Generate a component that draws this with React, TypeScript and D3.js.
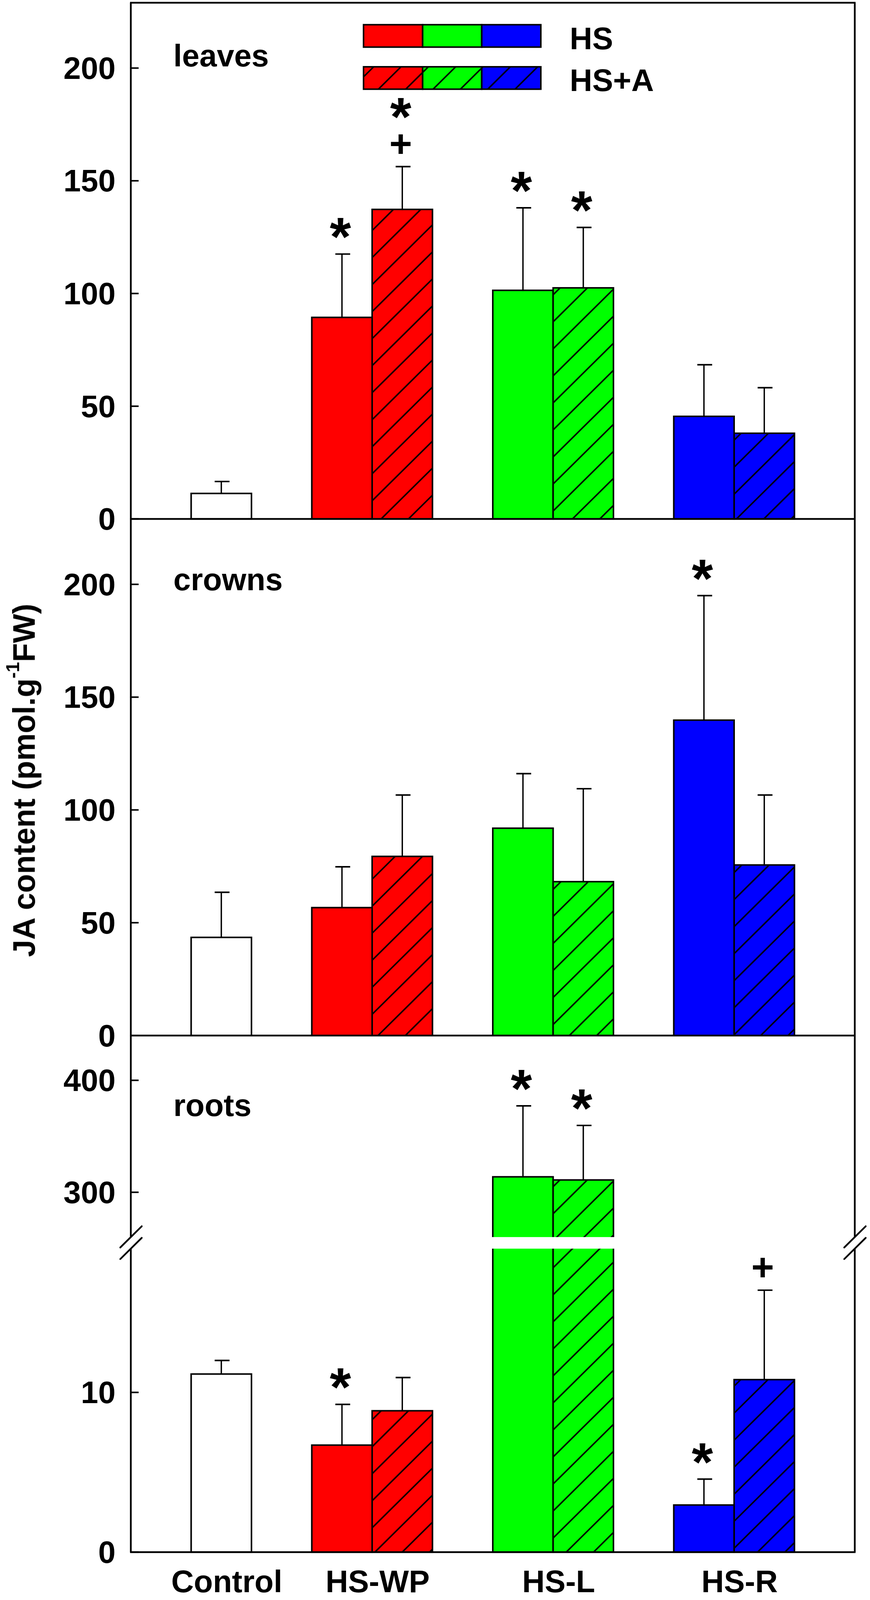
import { useEffect, useRef } from "react";
import * as d3 from "d3";

const treatments = ["HS-WP", "HS-L", "HS-R"];
const categories = ["Control", ...treatments];
const treatmentColors = ["#ff0000", "#00ff00", "#0000ff"];
const legendLabels = ["HS", "HS+A"];

// leaves
const leavesControl = 11.3;
const leavesControlErr = 5.3;
const leavesHS = [89.4, 101.4, 45.5];
const leavesHSErr = [28.1, 36.6, 22.9];
const leavesHSA = [137.3, 102.5, 38.0];
const leavesHSAErr = [19.0, 26.8, 20.2];
const leavesHSMarks = ["*", "*", ""];
const leavesHSAMarks = ["*+", "*", ""];
const leavesTicks = [0, 50, 100, 150, 200];

// crowns
const crownsControl = 43.5;
const crownsControlErr = 20.0;
const crownsHS = [56.7, 91.9, 139.8];
const crownsHSErr = [18.1, 24.2, 55.2];
const crownsHSA = [79.4, 68.2, 75.6];
const crownsHSAErr = [27.2, 41.2, 31.0];
const crownsHSMarks = ["", "", "*"];
const crownsHSAMarks = ["", "", ""];
const crownsTicks = [0, 50, 100, 150, 200];

// roots (broken axis)
const rootsControl = 11.15;
const rootsControlErr = 0.85;
const rootsHS = [6.7, 313.8, 2.95];
const rootsHSErr = [2.55, 63.4, 1.62];
const rootsHSA = [8.85, 311.0, 10.8];
const rootsHSAErr = [2.08, 48.7, 5.6];
const rootsHSMarks = ["*", "*", "*"];
const rootsHSAMarks = ["", "*", "+"];
const rootsLowTicks = [0, 10];
const rootsHighTicks = [300, 400];

const W = 2228;
const H = 4144;
const LEFT = 335;
const RIGHT = 2189;
const TOP = 7;
const FONT = "'Liberation Sans', Arial, Helvetica, sans-serif";

type Seg = { scale: d3.ScaleLinear<number, number>; ticks: number[] };

export default function App() {
  const svgRef = useRef<SVGSVGElement>(null);

  useEffect(() => {
    if (!svgRef.current) return;
    document.documentElement.style.overflow = "hidden";
    document.body.style.margin = "0";
    const svg = d3.select(svgRef.current);
    svg.selectAll("*").remove();

    svg.append("rect").attr("width", W).attr("height", H).attr("fill", "#fff");

    // hatch patterns for HS+A
    const defs = svg.append("defs");
    treatmentColors.forEach((c, i) => {
      const p = defs
        .append("pattern")
        .attr("id", `hatch${i}`)
        .attr("patternUnits", "userSpaceOnUse")
        .attr("width", 70)
        .attr("height", 70)
        .attr("patternTransform", "translate(10,0)");
      p.append("rect").attr("width", 70).attr("height", 70).attr("fill", c);
      p.append("path")
        .attr("d", "M0,70L70,0M-10,10L10,-10M60,80L80,60")
        .attr("stroke", "#000")
        .attr("stroke-width", 3.8);
    });

    // groups sit at 0..3, each bar is a third of a unit wide
    const x = d3.scaleLinear().domain([-1 / 3, 11 / 3]).range([LEFT, RIGHT]);
    const bw = 1 / 3;

    const panels = [
      {
        name: "leaves",
        labelY: 172,
        control: leavesControl,
        controlErr: leavesControlErr,
        hs: leavesHS,
        hsErr: leavesHSErr,
        hsa: leavesHSA,
        hsaErr: leavesHSAErr,
        hsMarks: leavesHSMarks,
        hsaMarks: leavesHSAMarks,
        segs: [
          { scale: d3.scaleLinear().domain([0, 229]).range([1344, TOP]), ticks: leavesTicks },
        ] as Seg[],
      },
      {
        name: "crowns",
        labelY: 1529,
        control: crownsControl,
        controlErr: crownsControlErr,
        hs: crownsHS,
        hsErr: crownsHSErr,
        hsa: crownsHSA,
        hsaErr: crownsHSAErr,
        hsMarks: crownsHSMarks,
        hsaMarks: crownsHSAMarks,
        segs: [
          { scale: d3.scaleLinear().domain([0, 229]).range([2682, 1344]), ticks: crownsTicks },
        ] as Seg[],
      },
      {
        name: "roots",
        labelY: 2890,
        control: rootsControl,
        controlErr: rootsControlErr,
        hs: rootsHS,
        hsErr: rootsHSErr,
        hsa: rootsHSA,
        hsaErr: rootsHSAErr,
        hsMarks: rootsHSMarks,
        hsaMarks: rootsHSAMarks,
        segs: [
          { scale: d3.scaleLinear().domain([0, 19]).range([4020, 3234]), ticks: rootsLowTicks },
          { scale: d3.scaleLinear().domain([260, 440]).range([3204, 2682]), ticks: rootsHighTicks },
        ] as Seg[],
      },
    ];

    const bars = svg.append("g");
    const errs = svg.append("g");
    const marks = svg.append("g");

    panels.forEach((p) => {
      const y = (v: number) => {
        const s = p.segs.find((sg) => v <= sg.scale.domain()[1]) ?? p.segs[p.segs.length - 1];
        return s.scale(v);
      };
      const items = [
        { x0: 0, v: p.control, e: p.controlErr, fill: "#fff", m: "" },
        ...treatments.map((_, i) => ({
          x0: i + 1 - bw, v: p.hs[i], e: p.hsErr[i], fill: treatmentColors[i], m: p.hsMarks[i],
        })),
        ...treatments.map((_, i) => ({
          x0: i + 1, v: p.hsa[i], e: p.hsaErr[i], fill: `url(#hatch${i})`, m: p.hsaMarks[i],
        })),
      ];

      bars
        .selectAll(null)
        .data(items)
        .enter()
        .append("rect")
        .attr("x", (d) => x(d.x0))
        .attr("width", (d) => x(d.x0 + bw) - x(d.x0))
        .attr("y", (d) => y(d.v))
        .attr("height", (d) => y(0) - y(d.v))
        .attr("fill", (d) => d.fill)
        .attr("stroke", "#000")
        .attr("stroke-width", 4);

      items.forEach((d) => {
        const cx = x(d.x0 + bw / 2);
        const top = y(d.v + d.e);
        errs.append("line")
          .attr("x1", cx).attr("x2", cx)
          .attr("y1", y(d.v)).attr("y2", top)
          .attr("stroke", "#000").attr("stroke-width", 3.5);
        errs.append("line")
          .attr("x1", cx - 17).attr("x2", cx + 21)
          .attr("y1", top).attr("y2", top)
          .attr("stroke", "#000").attr("stroke-width", 4);

        // significance symbols stacked above the cap
        if (!d.m) return;
        let center = 0;
        d.m.split("").reverse().forEach((ch, k) => {
          center = k === 0 ? top - (ch === "+" ? 60 : 76) : center - 100;
          marks.append("text")
            .attr("x", cx - 4)
            .attr("y", ch === "*" ? center + 80 : center + 35)
            .attr("text-anchor", "middle")
            .attr("font-family", FONT)
            .attr("font-weight", "bold")
            .attr("font-size", ch === "*" ? 140 : 100)
            .text(ch);
        });
      });

      // ticks and tick labels
      p.segs.forEach((s) => {
        s.ticks.forEach((t) => {
          const ty = s.scale(t);
          svg.append("line")
            .attr("x1", LEFT).attr("x2", LEFT + 20)
            .attr("y1", ty).attr("y2", ty)
            .attr("stroke", "#000").attr("stroke-width", 4);
          svg.append("text")
            .attr("x", 296)
            .attr("y", ty + 28)
            .attr("text-anchor", "end")
            .attr("font-family", FONT)
            .attr("font-weight", "bold")
            .attr("font-size", 80)
            .text(t);
        });
      });

      svg.append("text")
        .attr("x", 444)
        .attr("y", p.labelY)
        .attr("font-family", FONT)
        .attr("font-weight", "bold")
        .attr("font-size", 80)
        .text(p.name);
    });

    // axis break: white gap across the roots panel
    const rootsSegs = panels[2].segs;
    const gapBottom = rootsSegs[0].scale.range()[1];
    const gapTop = rootsSegs[1].scale.range()[0];
    svg.append("rect")
      .attr("x", LEFT + 3).attr("width", RIGHT - LEFT - 6)
      .attr("y", gapTop).attr("height", gapBottom - gapTop)
      .attr("fill", "#fff");

    // frame
    const frame = svg.append("g").attr("stroke", "#000").attr("stroke-width", 4.5).attr("fill", "none");
    [TOP, 1344, 2682, 4020].forEach((hy) => {
      frame.append("line").attr("x1", LEFT - 2).attr("x2", RIGHT + 2).attr("y1", hy).attr("y2", hy);
    });
    [LEFT, RIGHT].forEach((vx) => {
      frame.append("line").attr("x1", vx).attr("x2", vx).attr("y1", TOP).attr("y2", gapTop);
      frame.append("line").attr("x1", vx).attr("x2", vx).attr("y1", gapBottom).attr("y2", 4020);
      [gapTop, gapBottom].forEach((by) => {
        frame.append("line")
          .attr("x1", vx - 27).attr("y1", by + 27)
          .attr("x2", vx + 28).attr("y2", by - 28)
          .attr("stroke-linecap", "round");
      });
    });

    // category labels
    categories.forEach((c, i) => {
      const cx = i === 0 ? x(bw / 2) : x(i);
      svg.append("text")
        .attr("x", cx + 14)
        .attr("y", 4124)
        .attr("text-anchor", "middle")
        .attr("font-family", FONT)
        .attr("font-weight", "bold")
        .attr("font-size", 80)
        .text(c);
    });

    // legend
    const lx = d3.scaleBand<number>().domain([0, 1, 2]).range([931, 1385]);
    const legendRows = [64, 173];
    legendLabels.forEach((lab, r) => {
      treatmentColors.forEach((c, i) => {
        svg.append("rect")
          .attr("x", lx(i)!)
          .attr("width", lx.bandwidth())
          .attr("y", legendRows[r])
          .attr("height", 58)
          .attr("fill", r === 0 ? c : `url(#hatch${i})`)
          .attr("stroke", "#000")
          .attr("stroke-width", 4);
      });
      svg.append("text")
        .attr("x", 1459)
        .attr("y", legendRows[r] + 63)
        .attr("font-family", FONT)
        .attr("font-weight", "bold")
        .attr("font-size", 80)
        .text(lab);
    });

    // y axis title
    const title = svg.append("text")
      .attr("transform", "translate(89,2021) rotate(-90)")
      .attr("text-anchor", "middle")
      .attr("font-family", FONT)
      .attr("font-weight", "bold")
      .attr("font-size", 80);
    title.append("tspan").text("JA content (pmol.g");
    title.append("tspan").attr("dy", -40).attr("font-size", 48).text("-1");
    title.append("tspan").attr("dy", 40).text("FW)");

    return () => {
      svg.selectAll("*").remove();
    };
  }, []);

  return (
    <svg
      ref={svgRef}
      viewBox={`0 0 ${W} ${H}`}
      preserveAspectRatio="none"
      style={{ position: "fixed", left: 0, top: 0, width: "100vw", height: "100vh", display: "block" }}
    />
  );
}
